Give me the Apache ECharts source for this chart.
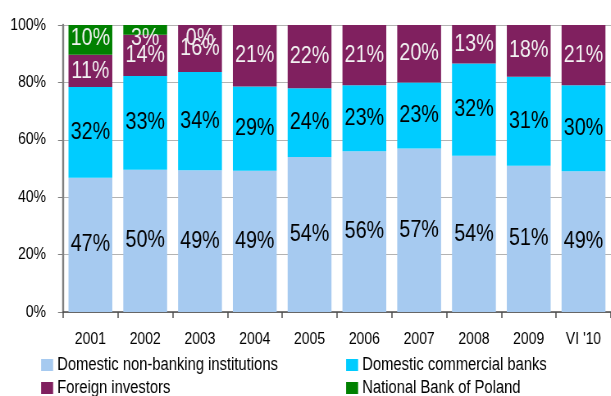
<!DOCTYPE html>
<html>
<head>
<meta charset="utf-8">
<script src="https://cdn.jsdelivr.net/npm/echarts@6/dist/echarts.min.js"></script>
<style>
  html, body { margin: 0; padding: 0; background: #fff; overflow: hidden; }
  /* Chart is laid out wider and condensed horizontally to get narrow lettering */
  #chart { width: 745px; height: 396px; transform: scaleX(0.82); transform-origin: 0 0; }
</style>
</head>
<body>
<div id="chart"></div>
<script>
// Ownership structure of Treasury securities (share of total, %)
const categories = ['2001', '2002', '2003', '2004', '2005', '2006', '2007', '2008', '2009', "VI '10"];
const nonBanking = [46.8, 49.6, 49.4, 49.2, 54, 56, 57, 54.4, 51, 49];
const commercialBanks = [31.6, 32.6, 34.2, 29.4, 24, 23, 23, 32.2, 31, 30];
const foreignInvestors = [11.2, 14.4, 16.4, 21.4, 22, 21, 20, 13.4, 18, 21];
const nationalBank = [10.4, 3.4, 0, null, null, null, null, null, null, null];
const yTicks = [0, 20, 40, 60, 80, 100];

const SX = 0.82;               // horizontal condensing factor
const px = v => v / SX;        // convert on-screen x distances to layout units
const FONT = "'Liberation Sans', Arial, sans-serif";

function pctLabel(color, position) {
  return {
    show: true,
    position: position || 'inside',
    distance: 1,
    color: color,
    fontFamily: FONT,
    fontSize: 24,
    formatter: p => (p.value == null ? '' : Math.round(p.value) + '%')
  };
}

function barSeries(name, data, color, labelColor, labelPos) {
  return {
    name: name,
    type: 'bar',
    stack: 'total',
    barWidth: '80%',
    data: data,
    itemStyle: { color: color },
    label: pctLabel(labelColor, labelPos),
    emphasis: { disabled: true }
  };
}

function legendItem(name, left, top) {
  return {
    data: [name],
    left: px(left), top: top,
    itemWidth: px(12), itemHeight: 12, itemGap: 0,
    icon: 'rect',
    textStyle: { fontFamily: FONT, fontSize: 18, color: '#000' },
    selectedMode: false
  };
}

const chart = echarts.init(document.getElementById('chart'), null, { renderer: 'canvas' });

chart.setOption({
  animation: false,
  backgroundColor: '#fff',
  grid: { left: px(63), right: px(-3), top: 25, bottom: 84, containLabel: false },
  legend: [
    legendItem('Domestic non-banking institutions', 37, 351),
    legendItem('Foreign investors', 37, 374),
    legendItem('Domestic commercial banks', 342, 351),
    legendItem('National Bank of Poland', 342, 374)
  ],
  xAxis: {
    type: 'category',
    data: categories,
    axisLine: { lineStyle: { color: '#4d4d4d', width: 1.5 } },
    axisTick: { show: true, length: 6, lineStyle: { color: '#4d4d4d', width: 1.5 } },
    axisLabel: { interval: 0, color: '#000', fontFamily: FONT, fontSize: 17, margin: 19 }
  },
  yAxis: {
    type: 'value',
    min: yTicks[0],
    max: yTicks[yTicks.length - 1],
    interval: 20,
    axisLine: { show: true, lineStyle: { color: '#808080', width: 2.4 } },
    axisTick: { show: true, length: px(5), lineStyle: { color: '#808080' } },
    axisLabel: { color: '#000', fontFamily: FONT, fontSize: 17, margin: px(17), formatter: '{value}%' },
    splitLine: { show: true, lineStyle: { color: '#b3b3b3', width: 1 } }
  },
  series: [
    barSeries('Domestic non-banking institutions', nonBanking, '#a6caf0', '#000'),
    barSeries('Domestic commercial banks', commercialBanks, '#00ccff', '#000'),
    barSeries('Foreign investors', foreignInvestors, '#80205f', '#f2f2f2'),
    barSeries('National Bank of Poland', nationalBank, '#008000', '#f2f2f2', 'insideTop')
  ]
});
</script>
</body>
</html>
